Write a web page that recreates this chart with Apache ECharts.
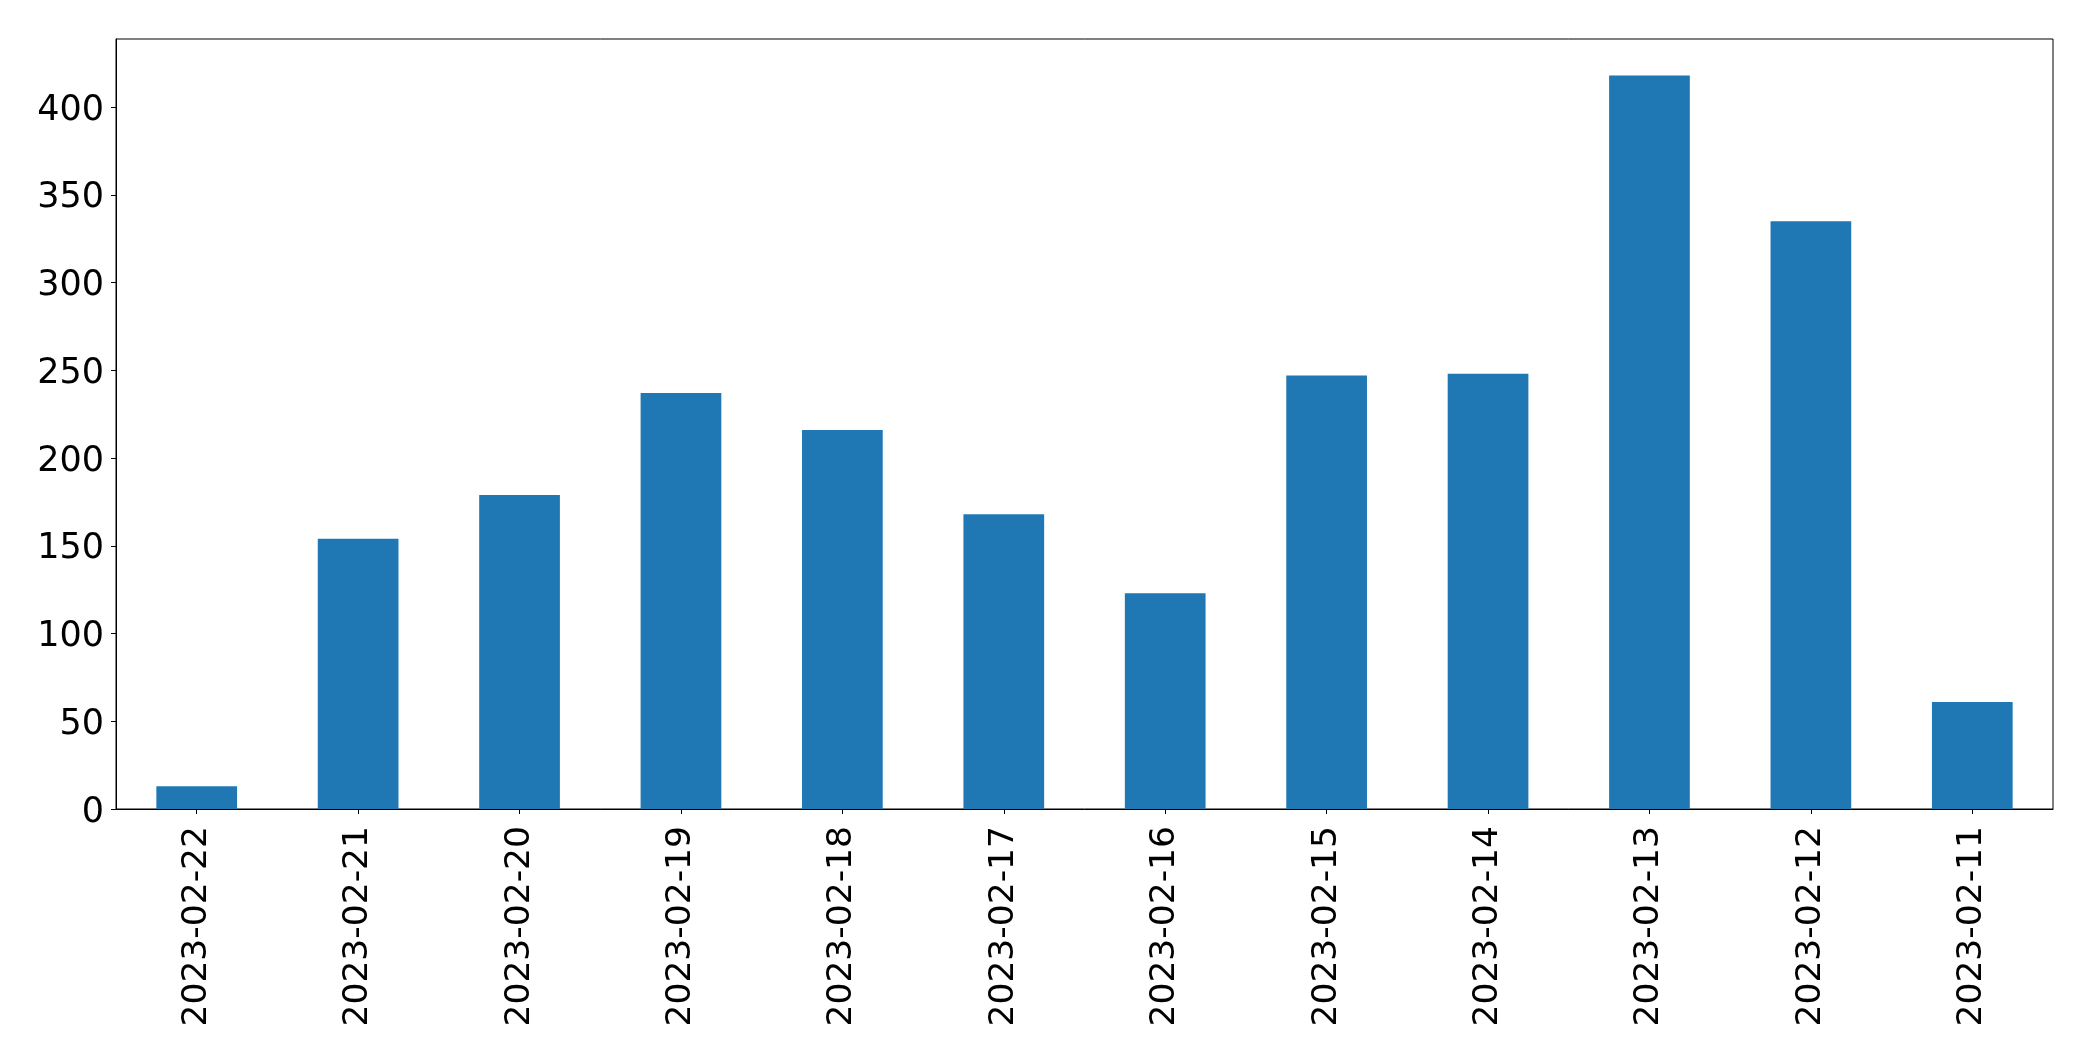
<!DOCTYPE html>
<html>
<head>
<meta charset="utf-8">
<script src="https://cdn.jsdelivr.net/npm/echarts@6/dist/echarts.min.js"></script>
<style>html,body{margin:0;padding:0;background:#fff;}#c{width:2093px;height:1061px;}</style>
</head>
<body>
<div id="c"></div>
<script>
const categories = ["2023-02-22","2023-02-21","2023-02-20","2023-02-19","2023-02-18","2023-02-17","2023-02-16","2023-02-15","2023-02-14","2023-02-13","2023-02-12","2023-02-11"];
const values = [13, 154, 179, 237, 216, 168, 123, 247, 248, 418, 335, 61];
const yMin = 0;
const yMax = 438.8;
const yInterval = 50;

const chart = echarts.init(document.getElementById('c'));
const font = 'DejaVu Sans';
chart.setOption({
  animation: false,
  backgroundColor: '#ffffff',
  grid: {left: 116, right: 40, top: 39, bottom: 252, show: true, borderColor: '#000', borderWidth: 1, backgroundColor: 'transparent'},
  xAxis: {
    type: 'category',
    data: categories,
    axisLine: {show: true, lineStyle: {color: '#000', width: 1}},
    axisTick: {show: true, alignWithLabel: true, length: 5, lineStyle: {color: '#000', width: 1}},
    axisLabel: {rotate: 90, margin: 17, fontSize: 34.5, fontFamily: font, color: '#000', interval: 0},
    splitLine: {show: false}
  },
  yAxis: {
    type: 'value',
    min: yMin, max: yMax, interval: yInterval,
    axisLine: {show: true, lineStyle: {color: '#000', width: 1}},
    axisTick: {show: true, length: 5, lineStyle: {color: '#000', width: 1}},
    axisLabel: {
      margin: 12, fontSize: 35, fontFamily: font, color: '#000', showMaxLabel: false,
      formatter: '{a|{value}}',
      rich: {a: {fontSize: 35, fontFamily: font, color: '#000', lineHeight: 35, padding: [7, 0, 0, 0]}}
    },
    splitLine: {show: false}
  },
  series: [{
    type: 'bar',
    data: values,
    barWidth: '50%',
    itemStyle: {color: '#1f77b4'}
  }]
});
</script>
</body>
</html>
